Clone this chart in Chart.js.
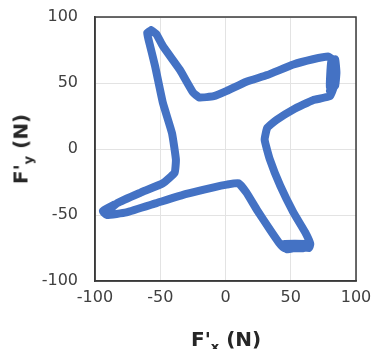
<!DOCTYPE html>
<html>
<head>
<meta charset="utf-8">
<script src="https://cdn.jsdelivr.net/npm/chart.js@4"></script>
<style>
  html, body { margin: 0; padding: 0; background: #fff; }
  #wrap { position: relative; width: 371px; height: 349px; }
  .axis-title { position: absolute; font-family: "DejaVu Sans", Verdana, sans-serif; font-weight: bold; font-size: 20px; color: #262626; white-space: nowrap; }
  .axis-title sub { font-size: 13px; vertical-align: -5px; }
  #xTitle { left: 191px; top: 327px; }
  #yTitle { left: 22px; top: 149px; transform: translate(-50%, -50%) rotate(-90deg); transform-origin: center; }
</style>
</head>
<body>
<div id="wrap">
  <canvas id="c" width="371" height="349"></canvas>
  <div class="axis-title" id="xTitle">F'<sub>x</sub> (N)</div>
  <div class="axis-title" id="yTitle">F'<sub>y</sub> (N)</div>
</div>
<script>
// ---------- data (the force path traced round) ----------
const fx = [
  -57, -53, -48, -35, -25, -20, -9, 1, 16, 32, 52, 67, 79, 84, 85, 84, 80, 81, 84, 85, 84, 80, 83, 80,
  67, 52, 39, 32, 30, 34, 42, 52, 61, 65, 64, 57, 47, 45, 62, 60, 45, 41, 34, 24, 16, 10,
  1, -9, -30, -53, -76, -91, -94, -85, -88, -92, -83, -65, -48, -39, -38, -41, -48, -54, -59, -60, -57
];
const fy = [
  90, 87, 78, 60, 43, 39, 40, 44, 51, 56, 64, 68, 70, 66, 58, 50, 47, 66, 68, 58, 48, 44, 47, 40,
  37, 30, 22, 16, 7, -8, -28, -48, -63, -72, -75, -74, -76, -72, -72, -75, -75, -71, -61, -46, -33, -26,
  -27, -29, -34, -41, -48, -50, -47, -42, -45, -49, -41, -33, -26, -18, -8, 12, 35, 63, 83, 88, 90
];
const axisMin = -100;
const axisMax = 100;
const tickStep = 50;

const points = fx.map((x, i) => ({ x: x, y: fy[i] }));

// ---------- plot frame (top/right border like Excel) ----------
const frame = {
  id: "frame",
  afterDraw(chart) {
    const a = chart.chartArea;
    const ctx = chart.ctx;
    ctx.save();
    ctx.strokeStyle = "#3a3a3a";
    ctx.lineWidth = 1.5;
    ctx.strokeRect(a.left, a.top, a.right - a.left, a.bottom - a.top);
    ctx.restore();
  }
};

const tickFont = { family: "DejaVu Sans", size: 16 };

new Chart(document.getElementById("c"), {
  type: "scatter",
  data: {
    datasets: [{
      data: points,
      showLine: true,
      borderColor: "#4472C4",
      borderWidth: 8,
      borderJoinStyle: "round",
      borderCapStyle: "round",
      tension: 0.12,
      pointRadius: 0,
      fill: false
    }]
  },
  options: {
    responsive: false,
    animation: false,
    layout: { padding: { left: 0, top: 17, right: 15, bottom: 0 } },
    plugins: { legend: { display: false }, tooltip: { enabled: false } },
    scales: {
      x: {
        type: "linear",
        min: axisMin, max: axisMax,
        ticks: { stepSize: tickStep, color: "#404040", font: tickFont, padding: 7, maxRotation: 0 },
        grid: { color: "#e3e3e3", lineWidth: 1, drawTicks: false },
        border: { color: "#3a3a3a", width: 1.5 },
        afterFit(s) { s.height = 68; s.paddingLeft = 0; s.paddingRight = 0; }
      },
      y: {
        type: "linear",
        min: axisMin, max: axisMax,
        ticks: { stepSize: tickStep, color: "#404040", font: tickFont, padding: 17 },
        grid: { color: "#e3e3e3", lineWidth: 1, drawTicks: false },
        border: { color: "#3a3a3a", width: 1.5 },
        afterFit(s) { s.width = 95; s.paddingTop = 0; s.paddingBottom = 0; }
      }
    }
  },
  plugins: [frame]
});
</script>
</body>
</html>
